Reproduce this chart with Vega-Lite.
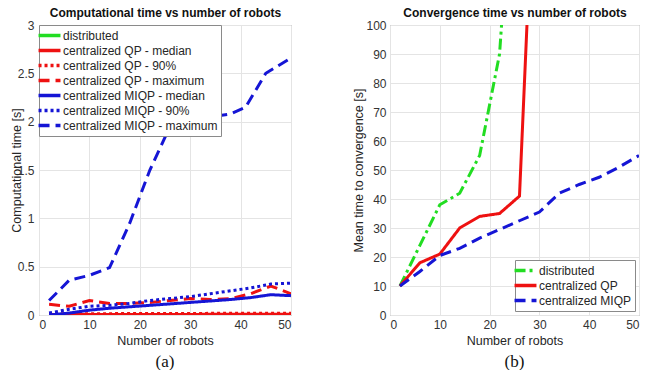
{
  "$schema": "https://vega.github.io/schema/vega-lite/v6.json",
  "background": "white",
  "padding": {"left": 9, "top": 5, "right": 0, "bottom": 0},
  "config": {
    "font": "Liberation Sans",
    "view": {"stroke": "#8a8a8a", "strokeWidth": 1},
    "axis": {
      "grid": true, "gridColor": "#e4e4e4", "domain": false, "ticks": false,
      "labelColor": "#333333", "labelFontSize": 12, "labelFont": "Liberation Sans", "labelPadding": 4,
      "titleFontSize": 12.5, "titleFontWeight": "normal", "titleColor": "#262626", "titleFont": "Liberation Sans"
    },
    "legend": {
      "labelFont": "Liberation Sans", "labelFontSize": 12, "labelColor": "#262626",
      "symbolType": "M-1.91,0H1.91", "symbolStrokeWidth": 3.5, "symbolSize": 132,
      "strokeColor": "#8a8a8a", "fillColor": "white", "padding": 3, "rowPadding": 0, "labelOffset": 6
    }
  },
  "datasets": {
    "a": [
      {"series": "distributed", "x": 2, "y": 0.002}, {"series": "distributed", "x": 6, "y": 0.002}, {"series": "distributed", "x": 10, "y": 0.002}, {"series": "distributed", "x": 14, "y": 0.003}, {"series": "distributed", "x": 18, "y": 0.003}, {"series": "distributed", "x": 22, "y": 0.003}, {"series": "distributed", "x": 26, "y": 0.003}, {"series": "distributed", "x": 30, "y": 0.003}, {"series": "distributed", "x": 34, "y": 0.003}, {"series": "distributed", "x": 38, "y": 0.003}, {"series": "distributed", "x": 42, "y": 0.003}, {"series": "distributed", "x": 46, "y": 0.003}, {"series": "distributed", "x": 50, "y": 0.003},
      {"series": "centralized QP - median", "x": 2, "y": 0.004}, {"series": "centralized QP - median", "x": 6, "y": 0.004}, {"series": "centralized QP - median", "x": 10, "y": 0.005}, {"series": "centralized QP - median", "x": 14, "y": 0.005}, {"series": "centralized QP - median", "x": 18, "y": 0.005}, {"series": "centralized QP - median", "x": 22, "y": 0.006}, {"series": "centralized QP - median", "x": 26, "y": 0.006}, {"series": "centralized QP - median", "x": 30, "y": 0.006}, {"series": "centralized QP - median", "x": 34, "y": 0.007}, {"series": "centralized QP - median", "x": 38, "y": 0.007}, {"series": "centralized QP - median", "x": 42, "y": 0.007}, {"series": "centralized QP - median", "x": 46, "y": 0.008}, {"series": "centralized QP - median", "x": 50, "y": 0.008},
      {"series": "centralized QP - 90%", "x": 2, "y": 0.012}, {"series": "centralized QP - 90%", "x": 6, "y": 0.013}, {"series": "centralized QP - 90%", "x": 10, "y": 0.014}, {"series": "centralized QP - 90%", "x": 14, "y": 0.014}, {"series": "centralized QP - 90%", "x": 18, "y": 0.015}, {"series": "centralized QP - 90%", "x": 22, "y": 0.015}, {"series": "centralized QP - 90%", "x": 26, "y": 0.016}, {"series": "centralized QP - 90%", "x": 30, "y": 0.016}, {"series": "centralized QP - 90%", "x": 34, "y": 0.017}, {"series": "centralized QP - 90%", "x": 38, "y": 0.017}, {"series": "centralized QP - 90%", "x": 42, "y": 0.018}, {"series": "centralized QP - 90%", "x": 46, "y": 0.018}, {"series": "centralized QP - 90%", "x": 50, "y": 0.019},
      {"series": "centralized QP - maximum", "x": 2, "y": 0.11}, {"series": "centralized QP - maximum", "x": 6, "y": 0.09}, {"series": "centralized QP - maximum", "x": 10, "y": 0.15}, {"series": "centralized QP - maximum", "x": 14, "y": 0.12}, {"series": "centralized QP - maximum", "x": 18, "y": 0.12}, {"series": "centralized QP - maximum", "x": 22, "y": 0.13}, {"series": "centralized QP - maximum", "x": 26, "y": 0.15}, {"series": "centralized QP - maximum", "x": 30, "y": 0.17}, {"series": "centralized QP - maximum", "x": 34, "y": 0.16}, {"series": "centralized QP - maximum", "x": 38, "y": 0.17}, {"series": "centralized QP - maximum", "x": 42, "y": 0.22}, {"series": "centralized QP - maximum", "x": 46, "y": 0.3}, {"series": "centralized QP - maximum", "x": 50, "y": 0.22},
      {"series": "centralized MIQP - median", "x": 2, "y": 0.0}, {"series": "centralized MIQP - median", "x": 6, "y": 0.02}, {"series": "centralized MIQP - median", "x": 10, "y": 0.05}, {"series": "centralized MIQP - median", "x": 14, "y": 0.07}, {"series": "centralized MIQP - median", "x": 18, "y": 0.085}, {"series": "centralized MIQP - median", "x": 22, "y": 0.1}, {"series": "centralized MIQP - median", "x": 26, "y": 0.115}, {"series": "centralized MIQP - median", "x": 30, "y": 0.13}, {"series": "centralized MIQP - median", "x": 34, "y": 0.145}, {"series": "centralized MIQP - median", "x": 38, "y": 0.16}, {"series": "centralized MIQP - median", "x": 42, "y": 0.18}, {"series": "centralized MIQP - median", "x": 46, "y": 0.21}, {"series": "centralized MIQP - median", "x": 50, "y": 0.2},
      {"series": "centralized MIQP - 90%", "x": 2, "y": 0.02}, {"series": "centralized MIQP - 90%", "x": 6, "y": 0.06}, {"series": "centralized MIQP - 90%", "x": 10, "y": 0.09}, {"series": "centralized MIQP - 90%", "x": 14, "y": 0.1}, {"series": "centralized MIQP - 90%", "x": 18, "y": 0.12}, {"series": "centralized MIQP - 90%", "x": 22, "y": 0.15}, {"series": "centralized MIQP - 90%", "x": 26, "y": 0.17}, {"series": "centralized MIQP - 90%", "x": 30, "y": 0.19}, {"series": "centralized MIQP - 90%", "x": 34, "y": 0.22}, {"series": "centralized MIQP - 90%", "x": 38, "y": 0.25}, {"series": "centralized MIQP - 90%", "x": 42, "y": 0.28}, {"series": "centralized MIQP - 90%", "x": 46, "y": 0.32}, {"series": "centralized MIQP - 90%", "x": 50, "y": 0.33},
      {"series": "centralized MIQP - maximum", "x": 2, "y": 0.15}, {"series": "centralized MIQP - maximum", "x": 6, "y": 0.36}, {"series": "centralized MIQP - maximum", "x": 10, "y": 0.41}, {"series": "centralized MIQP - maximum", "x": 14, "y": 0.49}, {"series": "centralized MIQP - maximum", "x": 18, "y": 0.95}, {"series": "centralized MIQP - maximum", "x": 22, "y": 1.5}, {"series": "centralized MIQP - maximum", "x": 26, "y": 1.95}, {"series": "centralized MIQP - maximum", "x": 30, "y": 2.0}, {"series": "centralized MIQP - maximum", "x": 34, "y": 2.05}, {"series": "centralized MIQP - maximum", "x": 38, "y": 2.08}, {"series": "centralized MIQP - maximum", "x": 41, "y": 2.15}, {"series": "centralized MIQP - maximum", "x": 45, "y": 2.5}, {"series": "centralized MIQP - maximum", "x": 50, "y": 2.66}
    ],
    "b": [
      {"series": "distributed", "x": 2, "y": 10}, {"series": "distributed", "x": 6, "y": 24}, {"series": "distributed", "x": 10, "y": 38}, {"series": "distributed", "x": 14, "y": 42}, {"series": "distributed", "x": 18, "y": 55}, {"series": "distributed", "x": 22, "y": 90}, {"series": "distributed", "x": 26, "y": 190},
      {"series": "centralized QP", "x": 2, "y": 10}, {"series": "centralized QP", "x": 6, "y": 18}, {"series": "centralized QP", "x": 10, "y": 21}, {"series": "centralized QP", "x": 14, "y": 30}, {"series": "centralized QP", "x": 18, "y": 34}, {"series": "centralized QP", "x": 22, "y": 35}, {"series": "centralized QP", "x": 26, "y": 41}, {"series": "centralized QP", "x": 30, "y": 198},
      {"series": "centralized MIQP", "x": 2, "y": 10}, {"series": "centralized MIQP", "x": 6, "y": 15}, {"series": "centralized MIQP", "x": 10, "y": 20.5}, {"series": "centralized MIQP", "x": 14, "y": 23}, {"series": "centralized MIQP", "x": 18, "y": 26.5}, {"series": "centralized MIQP", "x": 22, "y": 29.5}, {"series": "centralized MIQP", "x": 26, "y": 32.5}, {"series": "centralized MIQP", "x": 30, "y": 35.5}, {"series": "centralized MIQP", "x": 34, "y": 42}, {"series": "centralized MIQP", "x": 38, "y": 45}, {"series": "centralized MIQP", "x": 42, "y": 47.5}, {"series": "centralized MIQP", "x": 46, "y": 51}, {"series": "centralized MIQP", "x": 50, "y": 55}
    ]
  },
  "bounds": "flush",
  "spacing": 99,
  "resolve": {"scale": {"color": "independent", "strokeDash": "independent"}, "legend": {"color": "independent", "strokeDash": "independent"}},
  "hconcat": [
    {
      "width": 252, "height": 290,
      "data": {"name": "a"},
      "title": {"text": "(a)", "orient": "bottom", "font": "Liberation Serif", "fontSize": 17, "fontWeight": "normal", "color": "#111111", "offset": 7},
      "resolve": {"axis": {"x": "independent", "y": "independent"}},
      "layer": [
        {
          "mark": {"type": "line", "strokeWidth": 3, "clip": true},
          "encoding": {
            "x": {"field": "x", "type": "quantitative", "scale": {"domain": [0, 50], "nice": false}, "axis": {"title": "Number of robots", "values": [0, 10, 20, 30, 40, 50], "titlePadding": 4}},
            "y": {"field": "y", "type": "quantitative", "scale": {"domain": [0, 3], "nice": false}, "axis": {"title": "Computational time [s]", "values": [0, 0.5, 1, 1.5, 2, 2.5, 3], "format": "~g", "labelPadding": 5, "titlePadding": -6}},
            "color": {"field": "series", "type": "nominal",
              "scale": {"domain": ["distributed", "centralized QP - median", "centralized QP - 90%", "centralized QP - maximum", "centralized MIQP - median", "centralized MIQP - 90%", "centralized MIQP - maximum"],
                        "range": ["#22dd22", "#ee1111", "#ee1111", "#ee1111", "#1515d5", "#1515d5", "#1515d5"]},
              "legend": {"title": null, "orient": "top-left", "offset": 0}},
            "strokeDash": {"field": "series", "type": "nominal",
              "scale": {"domain": ["distributed", "centralized QP - median", "centralized QP - 90%", "centralized QP - maximum", "centralized MIQP - median", "centralized MIQP - 90%", "centralized MIQP - maximum"],
                        "range": [[1, 0], [1, 0], [3, 3], [11, 6], [1, 0], [3, 3], [11, 6]]},
              "legend": {"title": null, "orient": "top-left", "offset": 0}}
          }
        },
        {
          "mark": {"type": "line", "opacity": 0, "clip": true},
          "encoding": {
            "x": {"field": "x", "type": "quantitative", "scale": {"domain": [0, 50], "nice": false}, "axis": {"orient": "top", "title": "Computational time vs number of robots", "labels": false, "grid": false, "titleFontWeight": "bold", "titleFontSize": 12, "titleColor": "#111111", "titlePadding": 6}},
            "y": {"field": "y", "type": "quantitative", "scale": {"domain": [0, 3], "nice": false}, "axis": null}
          }
        }
      ]
    },
    {
      "width": 249, "height": 290,
      "data": {"name": "b"},
      "title": {"text": "(b)", "orient": "bottom", "font": "Liberation Serif", "fontSize": 17, "fontWeight": "normal", "color": "#111111", "offset": 7},
      "resolve": {"axis": {"x": "independent", "y": "independent"}},
      "layer": [
        {
          "mark": {"type": "line", "strokeWidth": 3, "clip": true},
          "encoding": {
            "x": {"field": "x", "type": "quantitative", "scale": {"domain": [0, 50], "nice": false}, "axis": {"title": "Number of robots", "values": [0, 10, 20, 30, 40, 50], "titlePadding": 4}},
            "y": {"field": "y", "type": "quantitative", "scale": {"domain": [0, 100], "nice": false}, "axis": {"title": "Mean time to convergence [s]", "values": [0, 10, 20, 30, 40, 50, 60, 70, 80, 90, 100], "titlePadding": 0}},
            "color": {"field": "series", "type": "nominal",
              "scale": {"domain": ["distributed", "centralized QP", "centralized MIQP"], "range": ["#22dd22", "#ee1111", "#1515d5"]},
              "legend": {"title": null, "orient": "bottom-right", "offset": 4}},
            "strokeDash": {"field": "series", "type": "nominal",
              "scale": {"domain": ["distributed", "centralized QP", "centralized MIQP"], "range": [[11, 4, 3, 4], [1, 0], [11, 6]]},
              "legend": {"title": null, "orient": "bottom-right", "offset": 4}}
          }
        },
        {
          "mark": {"type": "line", "opacity": 0, "clip": true},
          "encoding": {
            "x": {"field": "x", "type": "quantitative", "scale": {"domain": [0, 50], "nice": false}, "axis": {"orient": "top", "title": "Convergence time vs number of robots", "labels": false, "grid": false, "titleFontWeight": "bold", "titleFontSize": 12, "titleColor": "#111111", "titlePadding": 6}},
            "y": {"field": "y", "type": "quantitative", "scale": {"domain": [0, 100], "nice": false}, "axis": null}
          }
        }
      ]
    }
  ]
}
